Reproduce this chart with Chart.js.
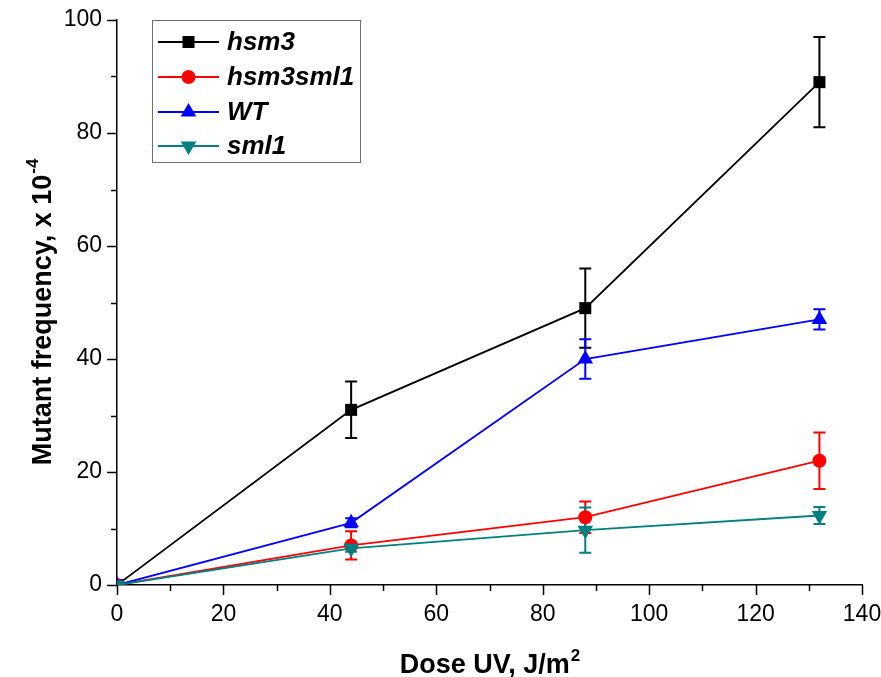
<!DOCTYPE html>
<html>
<head>
<meta charset="utf-8">
<script src="https://cdn.jsdelivr.net/npm/chart.js@4.4.1/dist/chart.umd.min.js"></script>
<style>
  html, body { margin: 0; padding: 0; background: #fff; }
  #wrap { width: 881px; height: 677px; }
</style>
</head>
<body>
<div id="wrap"><canvas id="chart" width="881" height="677"></canvas></div>
<script>
// dose values (J/m2) and mutant frequencies (x 10^-4)
const doses = [0, 44, 88, 132];

const hsm3 = [0, 31, 49, 89];
const hsm3Err = [0, 5, 7, 8];

const hsm3sml1 = [0, 7, 12, 22];
const hsm3sml1Err = [0, 2.5, 2.8, 5];

const wt = [0, 11, 40, 47];
const wtErr = [0, 0.8, 3.5, 1.8];

const sml1 = [0, 6.5, 9.7, 12.3];
const sml1Err = [0, 0.6, 4, 1.5];

const xTicks = [0, 20, 40, 60, 80, 100, 120, 140];
const yTicks = [0, 20, 40, 60, 80, 100];

const FONT = "'Liberation Sans', Arial, sans-serif";

function pts(ys) {
    return doses.map((x, i) => ({ x: x, y: ys[i] }));
}

function makeSet(label, ys, errs, color, style, rot, radius, order) {
    return {
        label: label,
        data: pts(ys),
        errors: errs,
        borderColor: color,
        backgroundColor: color,
        borderWidth: 1.8,
        pointStyle: style,
        pointRotation: rot,
        pointRadius: radius,
        pointHoverRadius: radius,
        pointBorderWidth: 0,
        order: order
    };
}

// error bars, drawn under the markers
const errorBars = {
    id: 'errorBars',
    beforeDatasetsDraw(chart) {
        const ctx = chart.ctx;
        const xs = chart.scales.x, ys = chart.scales.y;
        chart.data.datasets.forEach((ds) => {
            ctx.save();
            ctx.strokeStyle = ds.borderColor;
            ctx.lineWidth = 2;
            ds.data.forEach((p, i) => {
                const e = ds.errors[i];
                if (!e) return;
                const px = xs.getPixelForValue(p.x);
                const top = ys.getPixelForValue(p.y + e);
                const bot = ys.getPixelForValue(p.y - e);
                ctx.beginPath();
                ctx.moveTo(px, top); ctx.lineTo(px, bot);
                ctx.moveTo(px - 6, top); ctx.lineTo(px + 6, top);
                ctx.moveTo(px - 6, bot); ctx.lineTo(px + 6, bot);
                ctx.stroke();
            });
            ctx.restore();
        });
    }
};

// outward ticks (major + minor), axis titles and boxed legend
const decorations = {
    id: 'decorations',
    afterDraw(chart) {
        const ctx = chart.ctx;
        const xs = chart.scales.x, ys = chart.scales.y;
        const a = chart.chartArea;
        ctx.save();
        ctx.strokeStyle = '#000';
        ctx.lineWidth = 1.5;
        ctx.beginPath();
        for (let v = 0; v <= 140; v += 10) {
            const px = Math.round(xs.getPixelForValue(v)) + 0.5;
            const len = v % 20 === 0 ? 10 : 6;
            ctx.moveTo(px, a.bottom); ctx.lineTo(px, a.bottom + len);
        }
        for (let v = 0; v <= 100; v += 10) {
            const py = Math.round(ys.getPixelForValue(v)) + 0.5;
            const len = v % 20 === 0 ? 10 : 6;
            ctx.moveTo(a.left, py); ctx.lineTo(a.left - len, py);
        }
        ctx.stroke();

        // x title
        ctx.fillStyle = '#000';
        ctx.textBaseline = 'alphabetic';
        const tf = 'bold 27px ' + FONT;
        const sf = 'bold 17px ' + FONT;
        ctx.font = tf;
        const xMain = 'Dose UV, J/m';
        const w1 = ctx.measureText(xMain).width;
        ctx.font = sf;
        const w2 = ctx.measureText('2').width;
        let sx = (a.left + a.right) / 2 - (w1 + w2) / 2;
        ctx.font = tf;
        ctx.textAlign = 'left';
        ctx.fillText(xMain, sx, 673);
        ctx.font = sf;
        ctx.fillText('2', sx + w1 + 1, 661);

        // y title
        ctx.save();
        ctx.translate(51, (a.top + a.bottom) / 2 + 10);
        ctx.rotate(-Math.PI / 2);
        ctx.font = tf;
        const yMain = 'Mutant frequency, x 10';
        const v1 = ctx.measureText(yMain).width;
        ctx.font = sf;
        const v2 = ctx.measureText('-4').width;
        const sy = -(v1 + v2) / 2;
        ctx.font = tf;
        ctx.fillText(yMain, sy, 0);
        ctx.font = sf;
        ctx.fillText('-4', sy + v1 + 1, -13);
        ctx.restore();

        // legend box
        ctx.lineWidth = 1;
        ctx.strokeStyle = '#6e6e6e';
        ctx.strokeRect(152.5, 20.5, 208, 142);
        const rows = [42, 77, 112, 146];
        chart.data.datasets.forEach((ds, i) => {
            const y = rows[i];
            ctx.strokeStyle = ds.borderColor;
            ctx.lineWidth = 2;
            ctx.beginPath();
            ctx.moveTo(158, y); ctx.lineTo(219, y);
            ctx.stroke();
            ctx.fillStyle = ds.backgroundColor;
            Chart.helpers.drawPoint(ctx, {
                pointStyle: ds.pointStyle,
                rotation: ds.pointRotation,
                radius: ds.pointRadius,
                borderWidth: 0
            }, 188.5, y);
            ctx.fillStyle = '#000';
            ctx.font = 'italic bold 26px ' + FONT;
            ctx.textAlign = 'left';
            ctx.textBaseline = 'middle';
            ctx.fillText(ds.label, 227, y + 1);
        });
        ctx.restore();
    }
};

new Chart(document.getElementById('chart'), {
    type: 'line',
    data: {
        datasets: [
            makeSet('hsm3', hsm3, hsm3Err, '#000000', 'rect', 0, 8.5, 4),
            makeSet('hsm3sml1', hsm3sml1, hsm3sml1Err, '#ff0000', 'circle', 0, 7, 3),
            makeSet('WT', wt, wtErr, '#0000ff', 'triangle', 0, 9, 2),
            makeSet('sml1', sml1, sml1Err, '#008080', 'triangle', 180, 9, 1)
        ]
    },
    options: {
        responsive: false,
        animation: false,
        layout: { padding: { left: 0, top: 20, right: 19, bottom: 0 } },
        plugins: {
            legend: { display: false },
            tooltip: { enabled: false }
        },
        scales: {
            x: {
                type: 'linear',
                min: 0,
                max: 140,
                afterBuildTicks: (s) => { s.ticks = xTicks.map(v => ({ value: v })); },
                afterFit: (s) => { s.height = 92; s.paddingLeft = 0; s.paddingRight = 0; },
                grid: { drawOnChartArea: false, drawTicks: false },
                border: { color: '#000', width: 1.5 },
                ticks: { color: '#000', padding: 16, maxRotation: 0, font: { family: FONT, size: 23 } }
            },
            y: {
                type: 'linear',
                min: 0,
                max: 100,
                afterBuildTicks: (s) => { s.ticks = yTicks.map(v => ({ value: v })); },
                afterFit: (s) => { s.width = 117; s.paddingTop = 0; s.paddingBottom = 0; },
                grid: { drawOnChartArea: false, drawTicks: false },
                border: { color: '#000', width: 1.5 },
                ticks: { color: '#000', padding: 15, font: { family: FONT, size: 23 } }
            }
        }
    },
    plugins: [errorBars, decorations]
});
</script>
</body>
</html>
